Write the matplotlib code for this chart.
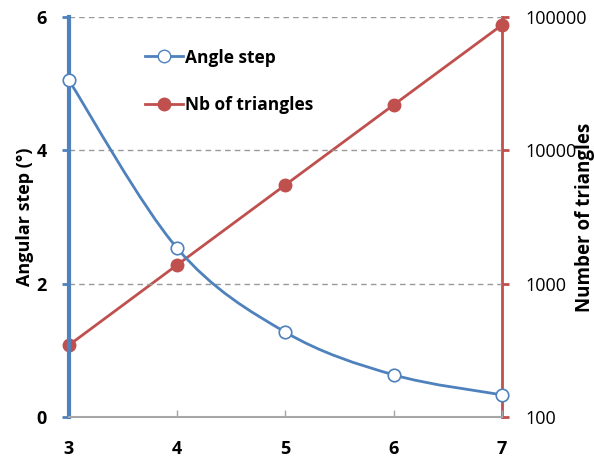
import matplotlib.pyplot as plt
from matplotlib.path import Path
from matplotlib.patches import PathPatch
from matplotlib.lines import Line2D

plt.rcParams['font.family'] = ['Open Sans', 'DejaVu Sans']

levels = [3, 4, 5, 6, 7]
angle_step = [5.05, 2.53, 1.27, 0.63, 0.33]
nb_triangles = [345, 1380, 5500, 21900, 87000]

blue = '#4F81BD'
red = '#C0504D'


def smooth_path(xs, ys, t=0.5):
    # catmull-rom style bezier through the points (like excel smoothed line)
    verts = [(xs[0], ys[0])]
    codes = [Path.MOVETO]
    n = len(xs)
    for i in range(n - 1):
        x0, y0 = (xs[i - 1], ys[i - 1]) if i > 0 else (xs[i], ys[i])
        x1, y1 = xs[i], ys[i]
        x2, y2 = xs[i + 1], ys[i + 1]
        x3, y3 = (xs[i + 2], ys[i + 2]) if i + 2 < n else (x2, y2)
        c1 = (x1 + (x2 - x0) * t / 3, y1 + (y2 - y0) * t / 3)
        c2 = (x2 - (x3 - x1) * t / 3, y2 - (y3 - y1) * t / 3)
        verts += [c1, c2, (x2, y2)]
        codes += [Path.CURVE4] * 3
    return Path(verts, codes)


fig = plt.figure(figsize=(5.94, 4.71), dpi=100)
ax = fig.add_axes([0.116, 0.115, 0.729, 0.849])
ax2 = ax.twinx()

ax.set_xlim(3, 7)
ax.set_ylim(0, 6)
ax.set_yticks([0, 2, 4, 6])
ax.set_xticks(levels)
ax2.set_yscale('log')
ax2.set_ylim(100, 100000)
ax2.set_yticks([100, 1000, 10000, 100000])
ax2.set_yticklabels(['100', '1000', '10000', '100000'])
ax2.minorticks_off()

for y in [2, 4, 6]:
    ax.axhline(y, color='#999999', lw=1, ls=(0, (4, 3)), zorder=0)

ax.add_patch(PathPatch(smooth_path(levels, angle_step), fc='none', ec=blue, lw=2, zorder=3))
ax.plot(levels, angle_step, ls='none', marker='o', ms=9, mfc='white', mec=blue, mew=1.2, zorder=4, clip_on=False)
ax2.plot(levels, nb_triangles, color=red, lw=2, marker='o', ms=9, zorder=3, clip_on=False)

ax.set_zorder(ax2.get_zorder() + 1)
ax.patch.set_visible(False)

for a in (ax, ax2):
    a.spines['top'].set_visible(False)
ax.spines['left'].set_color(blue)
ax.spines['left'].set_linewidth(3)
ax.spines['right'].set_visible(False)
ax.spines['bottom'].set_color('#A6A6A6')
ax.spines['bottom'].set_linewidth(1.5)
ax2.spines['left'].set_visible(False)
ax2.spines['bottom'].set_visible(False)
ax2.spines['right'].set_color(red)
ax2.spines['right'].set_linewidth(2)

ax.tick_params(axis='y', colors=blue, width=2, length=5, labelsize=13, labelcolor='black', pad=11)
ax.tick_params(axis='x', colors='#A6A6A6', direction='in', width=1, length=5, labelsize=13, labelcolor='black', pad=17)
ax2.tick_params(axis='y', colors=red, width=2, length=5, labelsize=13, labelcolor='black', pad=12)
for lbl in ax.get_xticklabels() + ax.get_yticklabels():
    lbl.set_fontweight('bold')

ax.set_ylabel('Angular step (°)', fontsize=13, fontweight='bold', labelpad=2)
ax2.set_ylabel('Number of triangles', fontsize=13.5, fontweight='bold', labelpad=-9)

handles = [
    Line2D([], [], color=blue, lw=2, marker='o', ms=9, mfc='white', mec=blue),
    Line2D([], [], color=red, lw=2, marker='o', ms=9),
]
ax.legend(handles, ['Angle step', 'Nb of triangles'], loc='upper left', bbox_to_anchor=(0.14, 0.96),
          frameon=False, prop={'size': 12.5, 'weight': 'bold'}, labelspacing=1.7, handlelength=2.2,
          handletextpad=0.1)

fig.savefig('out.png', dpi=100)
